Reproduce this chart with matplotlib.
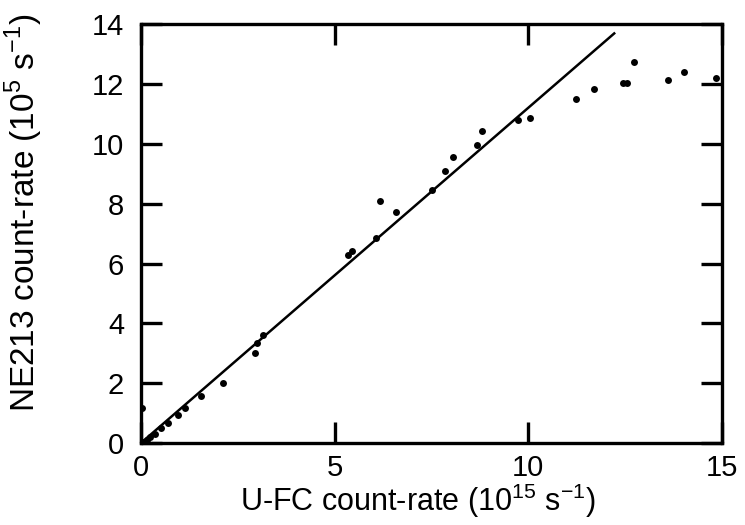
import matplotlib
matplotlib.use("Agg")
import matplotlib.pyplot as plt
import numpy as np

plt.rcParams['font.family'] = ['Liberation Sans', 'DejaVu Sans']
plt.rcParams['mathtext.fontset'] = 'custom'
plt.rcParams['mathtext.rm'] = 'Liberation Sans'

# Data
ufc_rate = [0.04, 0.06, 0.15, 0.23, 0.36, 0.53, 0.71, 0.96, 1.14, 1.55, 2.13,
            2.94, 2.99, 3.16, 5.36, 5.46, 6.08, 6.17, 6.58, 7.52, 7.85, 8.07,
            8.68, 8.80, 9.74, 10.04, 11.23, 11.71, 12.45, 12.54, 12.73,
            13.60, 14.02, 14.85]
ne213_rate = [1.16, 0.05, 0.12, 0.21, 0.32, 0.49, 0.66, 0.94, 1.18, 1.58, 2.02,
              3.02, 3.36, 3.62, 6.30, 6.43, 6.87, 8.09, 7.71, 8.45, 9.10, 9.55,
              9.96, 10.42, 10.81, 10.88, 11.50, 11.82, 12.04, 12.02, 12.73,
              12.13, 12.39, 12.19]
fit_x = [0.0, 12.22]
fit_y = [0.0, 13.69]

x_ticks = [0, 5, 10, 15]
y_ticks = [0, 2, 4, 6, 8, 10, 12, 14]

fig = plt.figure(figsize=(7.45, 5.25), dpi=100)
ax = fig.add_axes([0.189, 0.156, 0.780, 0.798])

ax.plot(fit_x, fit_y, color='black', lw=1.8)
ax.plot(ufc_rate, ne213_rate, 'o', color='black', ms=5, mew=0)

ax.set_xlim(0, 15)
ax.set_ylim(0, 14)
ax.set_xticks(x_ticks)
ax.set_yticks(y_ticks)
ax.tick_params(direction='in', length=15, width=2.4, top=True, right=True,
               labelsize=21)
ax.tick_params(axis='x', pad=8)
ax.tick_params(axis='y', pad=12)
for s in ax.spines.values():
    s.set_linewidth(2.4)

ax.set_xlabel(r'U-FC count-rate (10$^{\mathregular{15}}$ s$^{\mathregular{-1}}$)',
              fontsize=22)
ax.set_ylabel(r'NE213 count-rate (10$^{\mathregular{5}}$ s$^{\mathregular{-1}}$)',
              fontsize=24)
ax.xaxis.set_label_coords(0.477, -0.093)
ax.yaxis.set_label_coords(-0.165, 0.55)

fig.savefig('out.png', dpi=100)
